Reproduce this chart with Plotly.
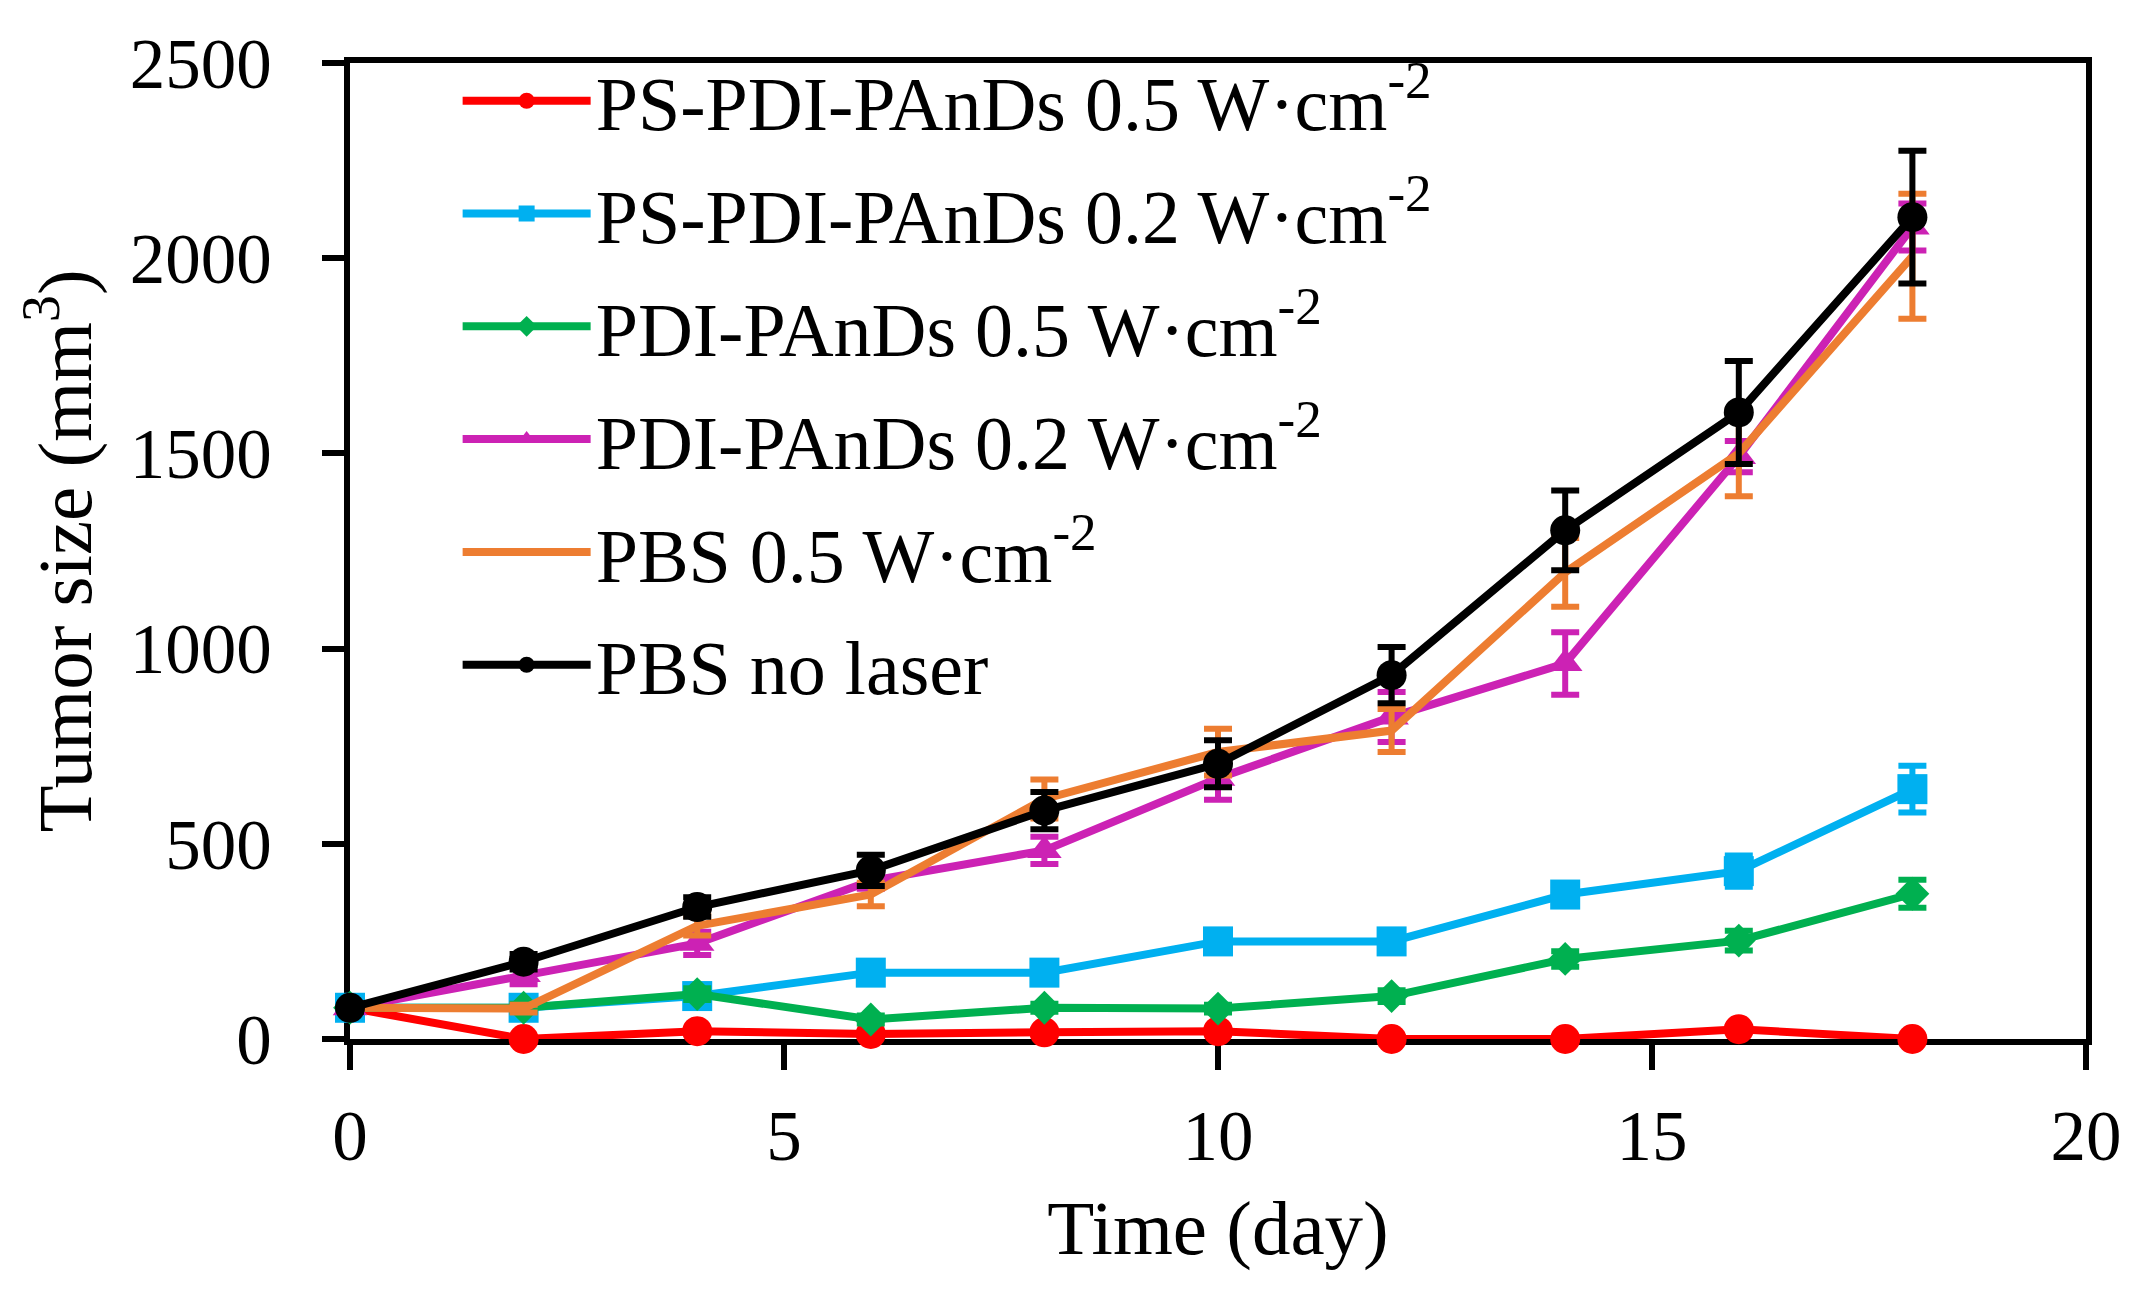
import plotly.graph_objects as go

days = [0, 2, 4, 6, 8, 10, 12, 14, 16, 18]

ps_pdi_05 = [80, 0, 20, 13, 17, 20, 0, 0, 25, 0]
ps_pdi_05_err = [5, 5, 5, 5, 5, 5, 5, 5, 5, 5]

ps_pdi_02 = [80, 80, 110, 170, 170, 250, 250, 370, 430, 640]
ps_pdi_02_err = [15, 15, 20, 20, 20, 20, 20, 25, 40, 60]

pdi_05 = [80, 80, 115, 50, 80, 78, 110, 205, 252, 372]
pdi_05_err = [10, 10, 15, 10, 10, 10, 15, 20, 25, 36]

pdi_02 = [80, 165, 245, 405, 483, 668, 825, 962, 1492, 2080]
pdi_02_err = [10, 25, 30, 20, 35, 55, 64, 80, 40, 60]

pbs_05 = [80, 78, 290, 370, 615, 735, 790, 1195, 1500, 2005]
pbs_05_err = [10, 10, 25, 30, 50, 60, 55, 88, 110, 160]

pbs_none = [80, 198, 338, 432, 585, 705, 932, 1303, 1605, 2105]
pbs_none_err = [10, 20, 25, 40, 48, 60, 72, 102, 132, 170]

names = [
    "PS-PDI-PAnDs 0.5 W·cm<sup>-2</sup>",
    "PS-PDI-PAnDs 0.2 W·cm<sup>-2</sup>",
    "PDI-PAnDs 0.5 W·cm<sup>-2</sup>",
    "PDI-PAnDs 0.2 W·cm<sup>-2</sup>",
    "PBS 0.5 W·cm<sup>-2</sup>",
    "PBS no laser",
]
series = [ps_pdi_05, ps_pdi_02, pdi_05, pdi_02, pbs_05, pbs_none]
errors = [ps_pdi_05_err, ps_pdi_02_err, pdi_05_err, pdi_02_err, pbs_05_err, pbs_none_err]
colors = ["#FF0000", "#00B0F0", "#00B050", "#CC22B4", "#ED7D31", "#000000"]
symbols = ["circle", "square", "diamond", "triangle-up", None, "circle"]
sizes = [30, 30, 26, 30, 0, 30]

FONT = "Liberation Serif"

fig = go.Figure()
for i, (nm, ys, er, c, sym, sz) in enumerate(zip(names, series, errors, colors, symbols, sizes)):
    mode = "lines" if sym is None else "lines+markers"
    kw = dict(
        x=days, y=ys, name=nm, mode=mode, legendgroup=f"g{i}",
        line=dict(color=c, width=8),
        error_y=dict(type="data", array=er, visible=True, color=c, thickness=6, width=14),
        cliponaxis=False,
    )
    if sym is not None:
        kw["marker"] = dict(symbol=sym, size=sz, color=c, line=dict(width=0))
    fig.add_trace(go.Scatter(**kw))

fig.update_layout(
    width=2136, height=1296,
    margin=dict(l=342, r=58, t=55, b=265),
    paper_bgcolor="white", plot_bgcolor="white",
    font=dict(family=FONT, color="black", size=71),
    showlegend=True,
    legend=dict(
        x=0.062, y=0.326, xanchor="left", yanchor="bottom",
        bgcolor="rgba(0,0,0,0)", font=dict(family=FONT, size=76, color="black"),
        itemwidth=128, traceorder="grouped", tracegroupgap=11,
    ),
)
fig.update_xaxes(
    range=[0, 20], dtick=5, tick0=0,
    showgrid=False, zeroline=False,
    showline=True, linecolor="black", linewidth=6, mirror=True,
    ticks="outside", ticklen=25, tickwidth=6, tickcolor="black",
    ticklabelstandoff=5,
    tickfont=dict(family=FONT, size=71, color="black"),
    title=dict(text="Time (day)", font=dict(family=FONT, size=77, color="black"), standoff=28),
    layer="below traces",
)
fig.update_yaxes(
    range=[0, 2500], dtick=500, tick0=0,
    showgrid=False, zeroline=False,
    showline=True, linecolor="black", linewidth=6, mirror=True,
    ticks="outside", ticklen=22, tickwidth=6, tickcolor="black",
    ticklabelstandoff=36,
    tickfont=dict(family=FONT, size=71, color="black"),
    title=dict(text="Tumor size (mm<sup>3</sup>)", font=dict(family=FONT, size=77, color="black"), standoff=15),
    layer="below traces",
)

fig.write_html("out.html")
